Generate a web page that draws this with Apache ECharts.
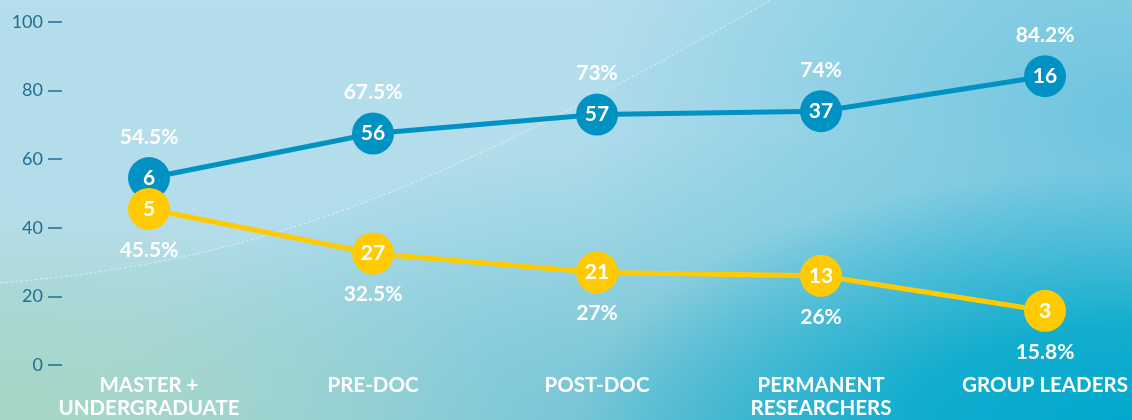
<!DOCTYPE html>
<html>
<head>
<meta charset="utf-8">
<script src="https://cdn.jsdelivr.net/npm/echarts@6/dist/echarts.min.js"></script>
<style>
  html, body { margin: 0; padding: 0; }
  #chart {
    width: 1132px; height: 420px;
    background:
      url("data:image/svg+xml;utf8,<svg xmlns='http://www.w3.org/2000/svg' width='1132' height='420'><path d='M0,283 C250,262 420,200 775,-2 L0,-2 Z' fill='white' fill-opacity='0.05'/><path d='M0,283 C250,262 420,200 775,-2' fill='none' stroke='white' stroke-opacity='0.5' stroke-width='1' stroke-dasharray='3 2'/></svg>"),
      radial-gradient(ellipse 560px 260px at 1132px 430px, rgba(0,168,204,1) 0%, rgba(0,168,204,0.85) 40%, rgba(0,168,204,0) 100%),
      radial-gradient(ellipse 520px 230px at 0px 430px, rgba(166,214,194,1) 0%, rgba(166,214,194,0) 100%),
      radial-gradient(ellipse 560px 420px at 1132px 120px, rgba(108,196,222,1) 0%, rgba(108,196,222,0) 100%),
      radial-gradient(ellipse 700px 300px at 760px 430px, rgba(90,188,208,0.8) 0%, rgba(90,188,208,0) 100%),
      linear-gradient(180deg, #b1ddec 0%, #b0dcea 55%, #a6d6e0 100%);
  }
</style>
</head>
<body>
<div id="chart"></div>
<script>
// Share of each career stage by group (percent) and head counts
const categories = ['MASTER +\nUNDERGRADUATE', 'PRE-DOC', 'POST-DOC', 'PERMANENT\nRESEARCHERS', 'GROUP LEADERS'];
const bluePercent = [54.5, 67.5, 73, 74, 84.2];
const blueCount = [6, 56, 57, 37, 16];
const yellowPercent = [45.5, 32.5, 27, 26, 15.8];
const yellowCount = [5, 27, 21, 13, 3];
const yTicks = [0, 20, 40, 60, 80, 100];

const BLUE = '#0092c3';
const YELLOW = '#ffcb00';
const FONT = 'Lato';

// Each point carries a three-line label: the head count sits in the middle
// line (centred on the marker) and the percentage goes above or below it.
const richStyles = {
  p: { color: '#ffffff', fontFamily: FONT, fontWeight: 'bold', fontSize: 21, height: 41, lineHeight: 41, align: 'center' },
  c: { color: '#ffffff', fontFamily: FONT, fontWeight: 'bold', fontSize: 21, height: 41, lineHeight: 41, align: 'center' },
  e: { fontSize: 21, height: 41, lineHeight: 41 }
};

function lineSeries(name, values, counts, color, pctAbove) {
  return {
    name: name,
    type: 'line',
    data: values,
    symbol: 'circle',
    symbolSize: 42,
    lineStyle: { color: color, width: 5 },
    itemStyle: { color: color },
    label: {
      show: true,
      position: 'inside',
      formatter: p => {
        const pct = '{p|' + p.value + '%}';
        const cnt = '{c|' + counts[p.dataIndex] + '}';
        return pctAbove ? pct + '\n' + cnt + '\n{e| }' : '{e| }\n' + cnt + '\n' + pct;
      },
      rich: richStyles
    }
  };
}

const chart = echarts.init(document.getElementById('chart'));
chart.setOption({
  animation: false,
  grid: { left: 149, right: 87, top: 22, bottom: 54, containLabel: false },
  xAxis: {
    type: 'category',
    data: categories,
    boundaryGap: false,
    axisLine: { show: false },
    axisTick: { show: false },
    axisLabel: {
      color: '#ffffff',
      fontFamily: FONT,
      fontWeight: 'bold',
      fontSize: 20.5,
      lineHeight: 23,
      margin: 9,
      interval: 0
    }
  },
  yAxis: {
    type: 'value',
    min: yTicks[0],
    max: yTicks[yTicks.length - 1],
    interval: 20,
    offset: 87,
    splitLine: { show: false },
    axisLine: { show: false },
    axisTick: { show: true, length: 14, lineStyle: { color: '#1f6f92', width: 1.5 } },
    axisLabel: {
      color: '#256d8f',
      fontFamily: FONT,
      fontSize: 18,
      margin: 19
    }
  },
  series: [
    lineSeries('blue', bluePercent, blueCount, BLUE, true),
    lineSeries('yellow', yellowPercent, yellowCount, YELLOW, false)
  ]
});
</script>
</body>
</html>
